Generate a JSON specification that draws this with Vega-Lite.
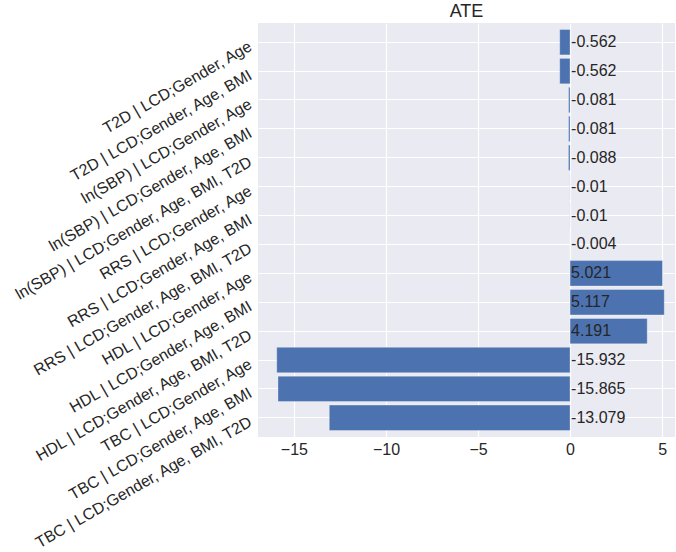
{
  "$schema": "https://vega.github.io/schema/vega-lite/v6.json",
  "width": 417,
  "height": 414,
  "autosize": "none",
  "padding": {"left": 258, "top": 23, "right": 1, "bottom": 115},
  "background": "white",
  "title": {"text": "ATE", "fontSize": 18, "font": "Liberation Sans", "fontWeight": "normal", "color": "#262626", "offset": 2},
  "config": {
    "view": {"fill": "#EAEAF2", "stroke": null},
    "font": "Liberation Sans"
  },
  "data": {
    "values": [
      {"label": "T2D | LCD;Gender, Age", "ate": -0.562, "txt": "-0.562"},
      {"label": "T2D | LCD;Gender, Age, BMI", "ate": -0.562, "txt": "-0.562"},
      {"label": "ln(SBP) | LCD;Gender, Age", "ate": -0.081, "txt": "-0.081"},
      {"label": "ln(SBP) | LCD;Gender, Age, BMI", "ate": -0.081, "txt": "-0.081"},
      {"label": "ln(SBP) | LCD;Gender, Age, BMI, T2D", "ate": -0.088, "txt": "-0.088"},
      {"label": "RRS | LCD;Gender, Age", "ate": -0.01, "txt": "-0.01"},
      {"label": "RRS | LCD;Gender, Age, BMI", "ate": -0.01, "txt": "-0.01"},
      {"label": "RRS | LCD;Gender, Age, BMI, T2D", "ate": -0.004, "txt": "-0.004"},
      {"label": "HDL | LCD;Gender, Age", "ate": 5.021, "txt": "5.021"},
      {"label": "HDL | LCD;Gender, Age, BMI", "ate": 5.117, "txt": "5.117"},
      {"label": "HDL | LCD;Gender, Age, BMI, T2D", "ate": 4.191, "txt": "4.191"},
      {"label": "TBC | LCD;Gender, Age", "ate": -15.932, "txt": "-15.932"},
      {"label": "TBC | LCD;Gender, Age, BMI", "ate": -15.865, "txt": "-15.865"},
      {"label": "TBC | LCD;Gender, Age, BMI, T2D", "ate": -13.079, "txt": "-13.079"}
    ]
  },
  "encoding": {
    "y": {
      "field": "label", "type": "nominal", "sort": null,
      "scale": {"paddingInner": 0.12, "paddingOuter": 0.225},
      "axis": {
        "title": null, "ticks": false, "domain": false,
        "labelAngle": -30, "labelAlign": "right", "labelBaseline": "middle",
        "labelFontSize": 16, "labelColor": "#262626", "labelPadding": 8, "labelOffset": 3,
        "grid": true, "gridColor": "white", "gridWidth": 1, "bandPosition": 0.5,
        "labelLimit": 0
      }
    }
  },
  "layer": [
    {
      "mark": {"type": "bar", "color": "#4C72B0", "stroke": "#ffffff", "strokeOpacity": 0.4, "strokeWidth": 0.8},
      "encoding": {
        "x": {
          "field": "ate", "type": "quantitative",
          "scale": {"domain": [-16.95, 5.7], "nice": false, "zero": false},
          "axis": {
            "title": null, "values": [-15, -10, -5, 0, 5], "ticks": false, "domain": false,
            "labelFontSize": 16, "labelColor": "#262626", "labelPadding": 4,
            "gridColor": "white", "gridWidth": 1.2,
            "labelExpr": "replace(datum.label, '-', '\u2212')"
          }
        }
      }
    },
    {
      "mark": {"type": "text", "align": "left", "baseline": "middle", "dx": 1, "fontSize": 16, "color": "#262626"},
      "encoding": {
        "x": {"datum": 0},
        "text": {"field": "txt"}
      }
    }
  ]
}
